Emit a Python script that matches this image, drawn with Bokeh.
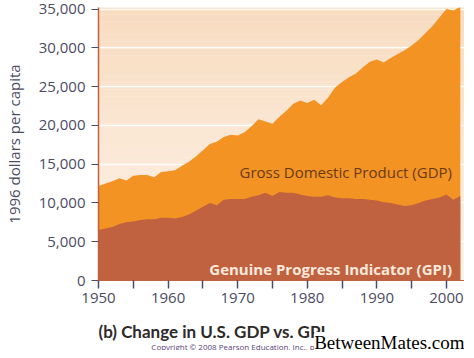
import numpy as np
from bokeh.plotting import figure
from bokeh.layouts import column
from bokeh.models import FixedTicker, Label, NumeralTickFormatter, Range1d
from bokeh.embed import file_html
from bokeh.resources import INLINE

years = list(range(1950, 2003))
gdp = [12200, 12500, 12800, 13200, 12900, 13500, 13600, 13600, 13300, 14000,
       14100, 14200, 14800, 15300, 16000, 16800, 17600, 17900, 18500, 18800,
       18700, 19100, 19900, 20800, 20500, 20200, 21100, 21900, 22800, 23200,
       22900, 23300, 22600, 23600, 24900, 25600, 26200, 26700, 27500, 28200,
       28500, 28100, 28700, 29200, 29700, 30300, 31000, 31900, 32800, 33900,
       35000, 34800, 35300]
gpi = [6500, 6700, 6900, 7300, 7500, 7600, 7800, 7900, 7900, 8100,
       8100, 8000, 8200, 8500, 9000, 9500, 10000, 9700, 10400, 10500,
       10500, 10500, 10800, 11000, 11300, 10900, 11400, 11300, 11300, 11100,
       10900, 10800, 10800, 11000, 10700, 10600, 10600, 10500, 10500, 10400,
       10300, 10100, 10000, 9800, 9600, 9700, 10000, 10300, 10500, 10700,
       11100, 10400, 10900]
y_ticks = [0, 5000, 10000, 15000, 20000, 25000, 30000, 35000]
x_ticks = [1950, 1960, 1970, 1980, 1990, 2000]
x_minor = [1955, 1965, 1975, 1985, 1995]

FONT = "Open Sans"
Y_END = 35200
X_END = 2002.6
W = 464

p = figure(width=W, height=316, output_backend="svg", toolbar_location=None,
           x_range=Range1d(1950, X_END), y_range=Range1d(0, Y_END),
           min_border_left=83, min_border_right=0, min_border_top=7,
           min_border_bottom=36)
p.outline_line_color = None
p.background_fill_color = "#fdf3ea"
p.border_fill_color = "white"

# gradient background bands
n = 40
edges = np.linspace(0, Y_END, n + 1)
top = np.array([0xf8, 0xdc, 0xc0])
bot = np.array([0xfe, 0xf4, 0xea])
cols = []
for i in range(n):
    t = (i + 0.5) / n
    c = (bot * (1 - t) + top * t).astype(int)
    cols.append("#%02x%02x%02x" % tuple(c))
bands = p.quad(left=1940, right=2010, bottom=edges[:-1], top=edges[1:],
               fill_color=cols, line_color=None)
bands.level = "image"

p.varea(x=years, y1=0, y2=gdp, fill_color="#f39324")
p.varea(x=years, y1=0, y2=gpi, fill_color="#c0613f")

# grid
p.xgrid.grid_line_color = None
p.ygrid.ticker = FixedTicker(ticks=y_ticks)
p.ygrid.grid_line_color = "white"
p.ygrid.grid_line_width = 1.5
p.ygrid.grid_line_alpha = 0.9

# axes
tick_col = "#4b4b6e"
p.yaxis.ticker = FixedTicker(ticks=y_ticks)
p.yaxis.formatter = NumeralTickFormatter(format="0,0")
p.yaxis.axis_line_color = "#c0613f"
p.yaxis.axis_line_width = 1.5
p.yaxis.major_tick_out = 7
p.yaxis.major_tick_in = 0
p.yaxis.major_tick_line_color = tick_col
p.yaxis.minor_tick_line_color = None
p.yaxis.major_label_text_font = FONT
p.yaxis.major_label_text_font_size = "15px"
p.yaxis.major_label_text_color = "#4b4b63"
p.yaxis.major_label_standoff = 6
p.yaxis.axis_label = "1996 dollars per capita"
p.yaxis.axis_label_text_font = FONT
p.yaxis.axis_label_text_font_size = "15px"
p.yaxis.axis_label_text_font_style = "normal"
p.yaxis.axis_label_text_color = "#4b4b63"
p.yaxis.axis_label_standoff = 12

p.xaxis.ticker = FixedTicker(ticks=x_ticks, minor_ticks=x_minor)
p.xaxis.axis_line_color = "#c0613f"
p.xaxis.major_tick_out = 8
p.xaxis.major_tick_in = 0
p.xaxis.minor_tick_out = 8
p.xaxis.minor_tick_in = 0
p.xaxis.major_tick_line_color = tick_col
p.xaxis.minor_tick_line_color = tick_col
p.xaxis.major_tick_line_width = 1.5
p.xaxis.minor_tick_line_width = 1.5
p.xaxis.major_label_text_font = FONT
p.xaxis.major_label_text_font_size = "15px"
p.xaxis.major_label_text_color = "#4b4b63"
p.xaxis.major_label_standoff = 4

# series labels
p.add_layout(Label(x=2000.8, y=14000, text="Gross Domestic Product (GDP)",
                   text_align="right", text_baseline="middle",
                   text_font=FONT, text_font_size="15px",
                   text_color="#6a3a15"))
p.add_layout(Label(x=2000.8, y=1500, text="Genuine Progress Indicator (GPI)",
                   text_align="right", text_baseline="middle",
                   text_font=FONT, text_font_size="15px",
                   text_font_style="bold", text_color="#fde9dc"))

# caption strip below the chart
H2 = 34
cap = figure(width=W, height=H2, output_backend="svg", toolbar_location=None,
             x_range=Range1d(0, W), y_range=Range1d(0, H2),
             x_axis_location=None, y_axis_location=None,
             min_border_left=0, min_border_right=0, min_border_top=0,
             min_border_bottom=0)
cap.outline_line_color = None
cap.grid.visible = False
cap.background_fill_color = "white"
cap.border_fill_color = "white"

cap.add_layout(Label(x=0, y=19, text="(b) Change in U.S. GDP vs. GPI",
                     text_baseline="middle", text_font="Lato",
                     text_font_size="17px", text_font_style="bold",
                     text_color="#2e2a2a"))
cap.add_layout(Label(x=67, y=4,
                     text="Copyright \u00a9 2008 Pearson Education, Inc., publishing as Pearson Benjamin Cummings.",
                     text_baseline="middle", text_font=FONT,
                     text_font_size="8px", text_color="#5a3f7a"))
cap.add_layout(Label(x=W, y=8, text="BetweenMates.com", text_align="right",
                     text_baseline="middle", text_font="Liberation Serif",
                     text_font_size="19px", text_color="black",
                     background_fill_color="white"))

layout = column(p, cap, spacing=0)
open("out.html", "w").write(file_html(layout, INLINE))
